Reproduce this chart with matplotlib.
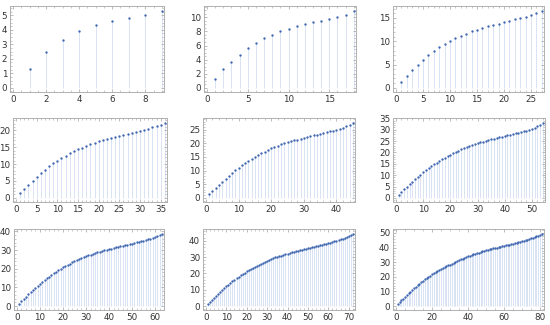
import matplotlib
matplotlib.use("Agg")
import matplotlib.pyplot as plt
from matplotlib.ticker import MultipleLocator, AutoMinorLocator

s9 = [1.3, 2.45, 3.3, 3.9, 4.3, 4.6, 4.8, 5.0, 5.3]
s18 = [1.3, 2.6, 3.7, 4.7, 5.6, 6.4, 7.0, 7.5, 8.0, 8.4, 8.7, 9.0, 9.3, 9.5, 9.8, 10.1, 10.4, 10.9]
s27 = [1.3, 2.6, 3.8, 5.0, 6.0, 7.0, 7.9, 8.7, 9.5, 10.1, 10.7, 11.2, 11.6, 12.1, 12.5, 12.9,
       13.2, 13.5, 13.8, 14.1, 14.4, 14.7, 15.0, 15.3, 15.6, 16.0, 16.5]
s36 = [1.3, 2.6, 3.8, 5.0, 6.2, 7.3, 8.3, 9.3, 10.2, 11.0, 11.8, 12.5, 13.2, 13.8, 14.4, 14.9,
       15.4, 15.9, 16.3, 16.7, 17.1, 17.5, 17.8, 18.1, 18.4, 18.7, 19.0, 19.3, 19.6, 19.9,
       20.2, 20.5, 20.9, 21.3, 21.7, 22.2]
s45 = [1.3, 2.5, 3.7, 4.9, 6.0, 7.1, 8.1, 9.1, 10.1, 11.0, 11.9, 12.8, 13.6, 14.4, 15.1, 15.8,
       16.4, 17.0, 17.6, 18.2, 18.7, 19.2, 19.6, 20.0, 20.4, 20.8, 21.1, 21.4, 21.7, 22.0,
       22.3, 22.6, 22.9, 23.2, 23.5, 23.8, 24.1, 24.4, 24.7, 25.0, 25.4, 25.8, 26.3, 26.8, 27.5]
s54 = [1.3, 2.5, 3.7, 4.9, 6.0, 7.1, 8.2, 9.2, 10.2, 11.2, 12.1, 13.0, 13.9, 14.7, 15.5, 16.3,
       17.0, 17.7, 18.4, 19.0, 19.6, 20.2, 20.8, 21.3, 21.8, 22.3, 22.8, 23.2, 23.6, 24.0,
       24.4, 24.8, 25.1, 25.4, 25.7, 26.0, 26.3, 26.6, 26.9, 27.2, 27.5, 27.8, 28.1, 28.4,
       28.7, 29.0, 29.3, 29.6, 30.0, 30.4, 30.9, 31.5, 32.2, 33.0]
s63 = [1.3, 2.6, 3.8, 5.0, 6.2, 7.4, 8.5, 9.6, 10.7, 11.8, 12.8, 13.8, 14.8, 15.7, 16.6, 17.5,
       18.3, 19.1, 19.9, 20.7, 21.4, 22.1, 22.8, 23.4, 24.0, 24.6, 25.2, 25.7, 26.2, 26.7,
       27.2, 27.6, 28.0, 28.4, 28.8, 29.2, 29.6, 29.9, 30.2, 30.5, 30.8, 31.1, 31.4, 31.7,
       32.0, 32.3, 32.6, 32.9, 33.2, 33.5, 33.8, 34.1, 34.4, 34.7, 35.0, 35.4, 35.8, 36.2,
       36.6, 37.0, 37.5, 38.1, 38.8]
s72 = [1.3, 2.6, 3.9, 5.1, 6.3, 7.5, 8.7, 9.8, 10.9, 12.0, 13.1, 14.1, 15.1, 16.1, 17.0, 17.9,
       18.8, 19.6, 20.4, 21.2, 22.0, 22.7, 23.4, 24.1, 24.8, 25.4, 26.0, 26.6, 27.2, 27.8,
       28.3, 28.8, 29.3, 29.8, 30.2, 30.6, 31.0, 31.4, 31.8, 32.2, 32.6, 33.0, 33.3, 33.6,
       33.9, 34.2, 34.5, 34.8, 35.1, 35.4, 35.7, 36.0, 36.3, 36.6, 36.9, 37.2, 37.5, 37.8,
       38.1, 38.5, 38.9, 39.3, 39.7, 40.1, 40.5, 40.9, 41.3, 41.8, 42.3, 42.9, 43.6, 44.4]
s81 = [1.3, 2.6, 3.9, 5.1, 6.3, 7.5, 8.7, 9.9, 11.0, 12.1, 13.2, 14.3, 15.3, 16.3, 17.3, 18.2,
       19.1, 20.0, 20.8, 21.6, 22.4, 23.2, 23.9, 24.6, 25.3, 26.0, 26.6, 27.2, 27.8, 28.4,
       29.0, 29.6, 30.2, 30.8, 31.4, 32.0, 32.5, 33.0, 33.5, 34.0, 34.5, 35.0, 35.4, 35.8,
       36.2, 36.6, 37.0, 37.4, 37.8, 38.2, 38.5, 38.8, 39.1, 39.4, 39.7, 40.0, 40.3, 40.6,
       40.9, 41.2, 41.5, 41.8, 42.1, 42.4, 42.7, 43.0, 43.3, 43.6, 43.9, 44.3, 44.7, 45.1,
       45.5, 45.9, 46.3, 46.7, 47.2, 47.7, 48.2, 48.8, 49.5]

series = [s9, s18, s27, s36, s45, s54, s63, s72, s81]
xmajor = [2, 5, 5, 5, 10, 10, 10, 10, 20]
ymajor = [1, 2, 5, 5, 5, 5, 10, 10, 10]

# axes boxes in pixels: (left, top, right, bottom)
boxes = [(10, 6, 164, 92), (204, 6, 356, 92), (393, 6, 544, 92),
         (13, 118, 167, 202), (203, 118, 355, 202), (393, 118, 545, 202),
         (14, 229, 164, 310), (203, 229, 355, 310), (393, 229, 544, 310)]

W, H = 550, 325
fig = plt.figure(figsize=(5.5, 3.25), dpi=100)

point_col = "#3F66B0"
stem_col = "#D9E3F3"
frame_col = "#B0B0B0"

for data, xm, ym, (l, t, r, b) in zip(series, xmajor, ymajor, boxes):
    ax = fig.add_axes([l / W, 1 - b / H, (r - l) / W, (b - t) / H])
    n = len(data)
    xs = list(range(1, n + 1))
    ax.vlines(xs, 0, data, colors=stem_col, linewidth=0.7, zorder=1)
    ax.plot(xs, data, "o", color=point_col, markersize=1.7, markeredgewidth=0, zorder=2)
    top = max(data)
    ax.set_xlim(-0.02 * n, n * 1.015)
    ax.set_ylim(-0.055 * top, top * 1.065)
    ax.xaxis.set_major_locator(MultipleLocator(xm))
    ax.yaxis.set_major_locator(MultipleLocator(ym))
    ax.xaxis.set_minor_locator(AutoMinorLocator(5 if xm in (5, 10) else 4))
    ax.yaxis.set_minor_locator(AutoMinorLocator(5 if ym in (5, 10) else 4))
    for sp in ax.spines.values():
        sp.set_color(frame_col)
        sp.set_linewidth(0.7)
    ax.tick_params(which="both", direction="in", top=True, right=True, color=frame_col,
                   labelsize=6.3, labelcolor="#333333", pad=2)
    ax.tick_params(which="major", length=2.5, width=0.6)
    ax.tick_params(which="minor", length=1.5, width=0.5)

fig.savefig("out.png", dpi=100)
